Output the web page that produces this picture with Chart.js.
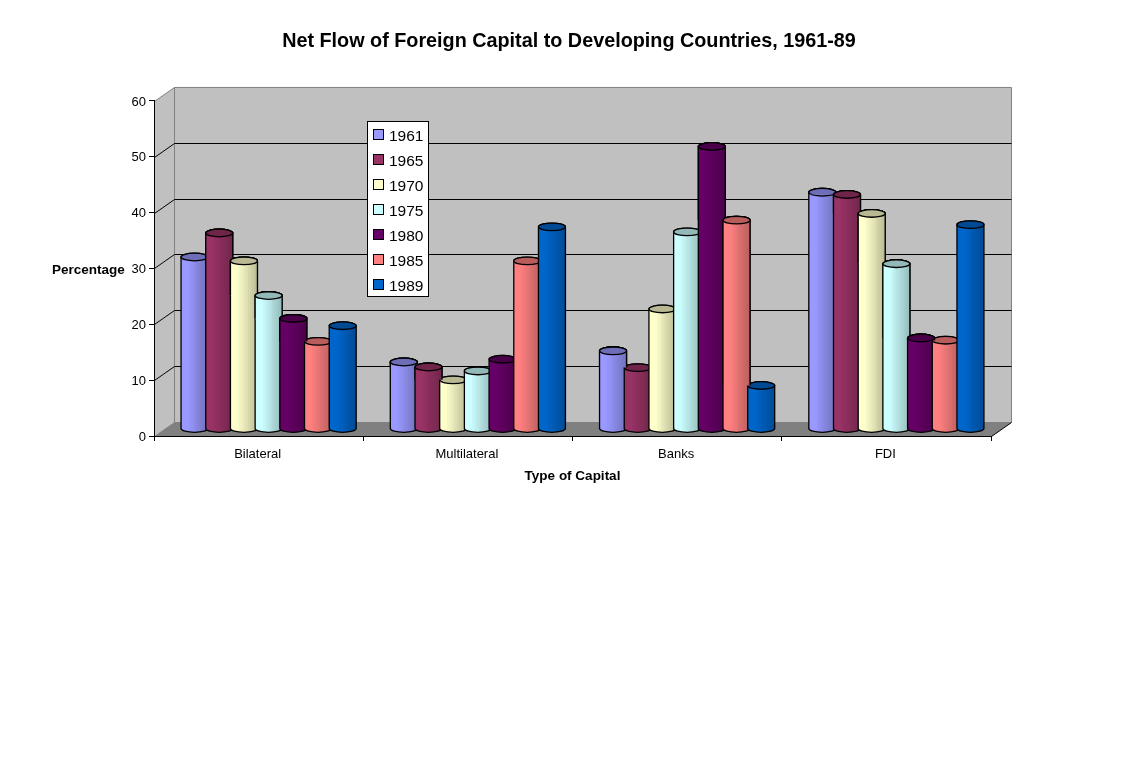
<!DOCTYPE html>
<html>
<head>
<meta charset="utf-8">
<title>Net Flow of Foreign Capital</title>
<script src="https://cdn.jsdelivr.net/npm/chart.js@4/dist/chart.umd.js"></script>
<style>
  html, body { margin: 0; padding: 0; background: #fff; }
  canvas { display: block; }
</style>
</head>
<body>
<canvas id="chart" width="1138" height="778"></canvas>
<script>
const categories = ['Bilateral', 'Multilateral', 'Banks', 'FDI'];
const years = ['1961', '1965', '1970', '1975', '1980', '1985', '1989'];

const values1961 = [30.8, 12.0, 14.0, 42.4];
const values1965 = [35.1, 11.1, 11.0, 42.0];
const values1970 = [30.1, 8.8, 21.5, 38.6];
const values1975 = [23.9, 10.4, 35.3, 29.6];
const values1980 = [19.8, 12.5, 50.6, 16.3];
const values1985 = [15.7, 30.1, 37.4, 15.9];
const values1989 = [18.5, 36.2, 7.8, 36.6];
const seriesValues = [values1961, values1965, values1970, values1975, values1980, values1985, values1989];

const seriesColors = ['#9999ff', '#993366', '#ffffcc', '#ccffff', '#660066', '#ff8080', '#0066cc'];

const axisTicks = [0, 10, 20, 30, 40, 50, 60];

// depth of the fake 3D box, bars stand halfway into it
const DEPTH_X = 20;
const DEPTH_Y = 14;
const CAP_RY = 3.8;
const BANDS = 14;

const FONT = '"Liberation Sans", Arial, sans-serif';
Chart.defaults.font.family = FONT;
Chart.defaults.color = '#000';

function shade(hex, f) {
  const n = parseInt(hex.slice(1), 16);
  const r = Math.round(((n >> 16) & 255) * f);
  const g = Math.round(((n >> 8) & 255) * f);
  const b = Math.round((n & 255) * f);
  return 'rgb(' + r + ',' + g + ',' + b + ')';
}

function polygon(ctx, pts, fill, stroke) {
  ctx.beginPath();
  pts.forEach(function (p, i) {
    if (i === 0) ctx.moveTo(p[0], p[1]);
    else ctx.lineTo(p[0], p[1]);
  });
  ctx.closePath();
  ctx.fillStyle = fill;
  ctx.fill();
  if (stroke) {
    ctx.strokeStyle = stroke;
    ctx.lineWidth = 1;
    ctx.stroke();
  }
}

function drawBox(chart) {
  const ctx = chart.ctx;
  const y = chart.scales.y;
  const l = chart.chartArea.left;
  const r = chart.chartArea.right;
  const t = chart.chartArea.top;
  const b = chart.chartArea.bottom;
  const dx = DEPTH_X;
  const dy = DEPTH_Y;

  ctx.save();
  ctx.translate(0.5, 0.5);
  polygon(ctx, [[l, t], [l + dx, t - dy], [l + dx, b - dy], [l, b]], '#c0c0c0', '#808080');
  polygon(ctx, [[l + dx, t - dy], [r + dx, t - dy], [r + dx, b - dy], [l + dx, b - dy]], '#c0c0c0', '#808080');
  polygon(ctx, [[l, b], [l + dx, b - dy], [r + dx, b - dy], [r, b]], '#808080', null);

  // grid lines run along the side wall and the back wall
  ctx.strokeStyle = '#000';
  ctx.lineWidth = 1;
  axisTicks.forEach(function (v) {
    if (v === 0 || v === 60) return;
    const py = Math.round(y.getPixelForValue(v));
    ctx.beginPath();
    ctx.moveTo(l, py);
    ctx.lineTo(l + dx, py - dy);
    ctx.lineTo(r + dx, py - dy);
    ctx.stroke();
  });

  ctx.beginPath();
  ctx.moveTo(r, b);
  ctx.lineTo(r + dx, b - dy);
  ctx.stroke();
  ctx.restore();
}

function cylinderPath(ctx, cx, top, base, half) {
  ctx.beginPath();
  ctx.moveTo(cx - half, top);
  ctx.lineTo(cx - half, base);
  ctx.ellipse(cx, base, half, CAP_RY, 0, Math.PI, 0, true);
  ctx.lineTo(cx + half, top);
  ctx.ellipse(cx, top, half, CAP_RY, 0, 0, Math.PI, true);
  ctx.closePath();
}

function drawCylinder(ctx, bar, color) {
  const cx = bar.x + DEPTH_X / 2;
  const top = bar.y - DEPTH_Y / 2;
  const base = bar.base - DEPTH_Y / 2;
  const half = bar.width / 2;

  // hard stops give the stepped shading across the body
  const grad = ctx.createLinearGradient(cx - half, 0, cx + half, 0);
  for (let i = 0; i < BANDS; i++) {
    const t = i / BANDS;
    const f = t < 0.2 ? 1 : 1 - 0.28 * (t - 0.2) / 0.8;
    grad.addColorStop(t, shade(color, f));
    grad.addColorStop((i + 1) / BANDS, shade(color, f));
  }

  cylinderPath(ctx, cx, top, base, half);
  ctx.fillStyle = grad;
  ctx.fill();
  ctx.strokeStyle = '#000';
  ctx.lineWidth = 1.3;
  ctx.stroke();

  ctx.beginPath();
  ctx.ellipse(cx, top, half, CAP_RY, 0, 0, Math.PI * 2);
  ctx.fillStyle = shade(color, 0.72);
  ctx.fill();
  ctx.stroke();
}

function drawCylinders(chart) {
  const ctx = chart.ctx;
  const metas = chart.data.datasets.map(function (d, i) {
    return chart.getDatasetMeta(i).data;
  });

  categories.forEach(function (c, j) {
    const bars = metas.map(function (m) {
      return m[j].getProps(['x', 'y', 'base', 'width'], true);
    });

    bars.forEach(function (bar, i) {
      drawCylinder(ctx, bar, seriesColors[i]);
    });

    // a taller bar shows its full width above a shorter right neighbour
    bars.forEach(function (bar, i) {
      const next = bars[i + 1];
      if (!next || next.y <= bar.y) return;
      ctx.save();
      ctx.beginPath();
      ctx.rect(bar.x - bar.width, 0, bar.width * 2 + DEPTH_X, next.y - DEPTH_Y / 2);
      ctx.clip();
      drawCylinder(ctx, bar, seriesColors[i]);
      ctx.restore();
    });
  });
}

function drawLegend(chart) {
  const ctx = chart.ctx;
  ctx.save();
  ctx.fillStyle = '#fff';
  ctx.strokeStyle = '#000';
  ctx.lineWidth = 1;
  ctx.fillRect(367.5, 121.5, 61, 175);
  ctx.strokeRect(367.5, 121.5, 61, 175);
  ctx.font = '15.5px ' + FONT;
  ctx.textBaseline = 'middle';
  ctx.textAlign = 'left';
  years.forEach(function (year, i) {
    const rowY = 135 + i * 25;
    ctx.fillStyle = seriesColors[i];
    ctx.fillRect(373.5, rowY - 5.5, 10, 10);
    ctx.strokeRect(373.5, rowY - 5.5, 10, 10);
    ctx.fillStyle = '#000';
    ctx.fillText(year, 389, rowY + 2);
  });
  ctx.restore();
}

function drawSideLabel(chart) {
  const ctx = chart.ctx;
  ctx.save();
  ctx.font = 'bold 13.5px ' + FONT;
  ctx.fillStyle = '#000';
  ctx.textBaseline = 'middle';
  ctx.textAlign = 'left';
  ctx.fillText('Percentage', 52, (chart.chartArea.top + chart.chartArea.bottom) / 2 + 2);
  ctx.restore();
}

const box3d = {
  id: 'box3d',
  // the title is centred on the whole page, not on the plot
  afterLayout: function (chart) {
    chart.titleBlock.left = 0;
    chart.titleBlock.right = chart.width;
  },
  beforeDraw: drawBox,
  // flat bars are replaced by the cylinders below
  beforeDatasetDraw: function () {
    return false;
  },
  afterDatasetsDraw: drawCylinders,
  afterDraw: function (chart) {
    drawLegend(chart);
    drawSideLabel(chart);
  },
};

new Chart(document.getElementById('chart'), {
  type: 'bar',
  plugins: [box3d],
  data: {
    labels: categories,
    datasets: years.map(function (year, i) {
      return {
        label: year,
        data: seriesValues[i],
        backgroundColor: seriesColors[i],
        categoryPercentage: 0.826,
        barPercentage: 1.093,
      };
    }),
  },
  options: {
    responsive: false,
    animation: false,
    layout: { padding: { right: 147 } },
    plugins: {
      legend: { display: false },
      tooltip: { enabled: false },
      title: {
        display: true,
        text: 'Net Flow of Foreign Capital to Developing Countries, 1961-89',
        font: { size: 19.8, weight: 'bold' },
        color: '#000',
        padding: { top: 30, bottom: 47.2 },
      },
    },
    scales: {
      x: {
        afterFit: function (scale) {
          scale.height = 342;
        },
        border: { color: '#000' },
        grid: { offset: true, drawOnChartArea: false, color: '#000', tickLength: 5 },
        ticks: { font: { size: 13 }, padding: 6, color: '#000', maxRotation: 0, labelOffset: -1 },
        title: {
          display: true,
          text: 'Type of Capital',
          font: { size: 13.5, weight: 'bold' },
          color: '#000',
          padding: { top: 0, bottom: 294 },
        },
      },
      y: {
        min: 0,
        max: 60,
        afterFit: function (scale) {
          scale.width = 154;
        },
        afterBuildTicks: function (scale) {
          scale.ticks = axisTicks.map(function (v) {
            return { value: v };
          });
        },
        border: { color: '#000' },
        grid: { drawOnChartArea: false, color: '#000', tickLength: 5 },
        ticks: { font: { size: 13 }, padding: 3, color: '#000', labelOffset: 1 },
      },
    },
  },
});
</script>
</body>
</html>
